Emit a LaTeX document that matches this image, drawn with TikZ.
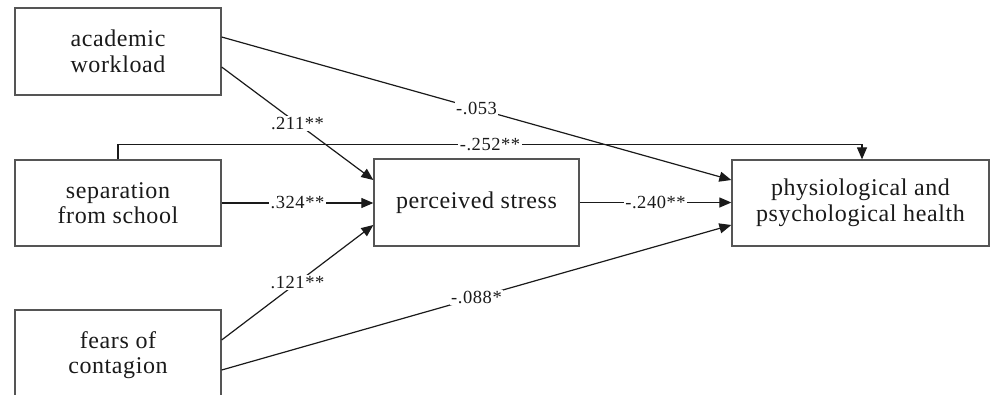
\documentclass[tikz,border=0pt]{standalone}
\usepackage{fontspec}
\setmainfont{Liberation Serif}
\usetikzlibrary{arrows.meta}
\definecolor{boxline}{HTML}{555555}
\definecolor{txt}{HTML}{1A1A1A}
\begin{document}
\begin{tikzpicture}[x=1pt,y=-1pt,
  box/.style={draw=boxline,line width=1.3pt,fill=white,align=center,inner sep=0pt,
    font=\fontsize{24}{25.5}\selectfont\addfontfeature{LetterSpace=2.5},text=txt},
  conn/.style={line width=1.2pt,draw=txt,-{Triangle[length=12pt,width=10pt]}},
  lab/.style={fill=white,inner sep=1.5pt,font=\fontsize{18.5}{20}\selectfont\addfontfeature{LetterSpace=3},text=txt}]
\useasboundingbox (0,0) rectangle (990,394);
\node[box,minimum width=206pt,minimum height=87pt] (A) at (118,51.5) {academic\\workload};
\node[box,minimum width=206pt,minimum height=86pt] (S) at (118,203) {separation\\from school};
\node[box,minimum width=206pt,minimum height=90pt] (F) at (118,355) {fears of\\contagion};
\node[box,minimum width=205pt,minimum height=87pt] (P) at (476.5,202.5) {perceived stress};
\node[box,minimum width=257pt,minimum height=86pt] (H) at (860.5,203) {physiological and\\psychological health};
\draw[conn] ([yshift=14.5pt]A.east) -- node[lab,pos=0.5]{-.053} ([yshift=23pt]H.west);
\draw[conn] ([yshift=-15.5pt]A.east) -- node[lab,pos=0.5]{.211**} ([yshift=22.5pt]P.west);
\draw[conn] (S.north) -- ++(0,-15) -| node[lab,pos=0.25]{-.252**} ([xshift=1.5pt]H.north);
\draw[conn] (S.east) -- node[lab]{.324**} (S.east -| P.west);
\draw[conn] (P.east) -- node[lab]{-.240**} (P.east -| H.west);
\draw[conn] ([yshift=15pt]F.east) -- node[lab,pos=0.5]{.121**} ([yshift=-22.5pt]P.west);
\draw[conn] ([yshift=-15pt]F.east) -- node[lab,pos=0.5]{-.088*} ([yshift=-22pt]H.west);
\end{tikzpicture}
\end{document}
